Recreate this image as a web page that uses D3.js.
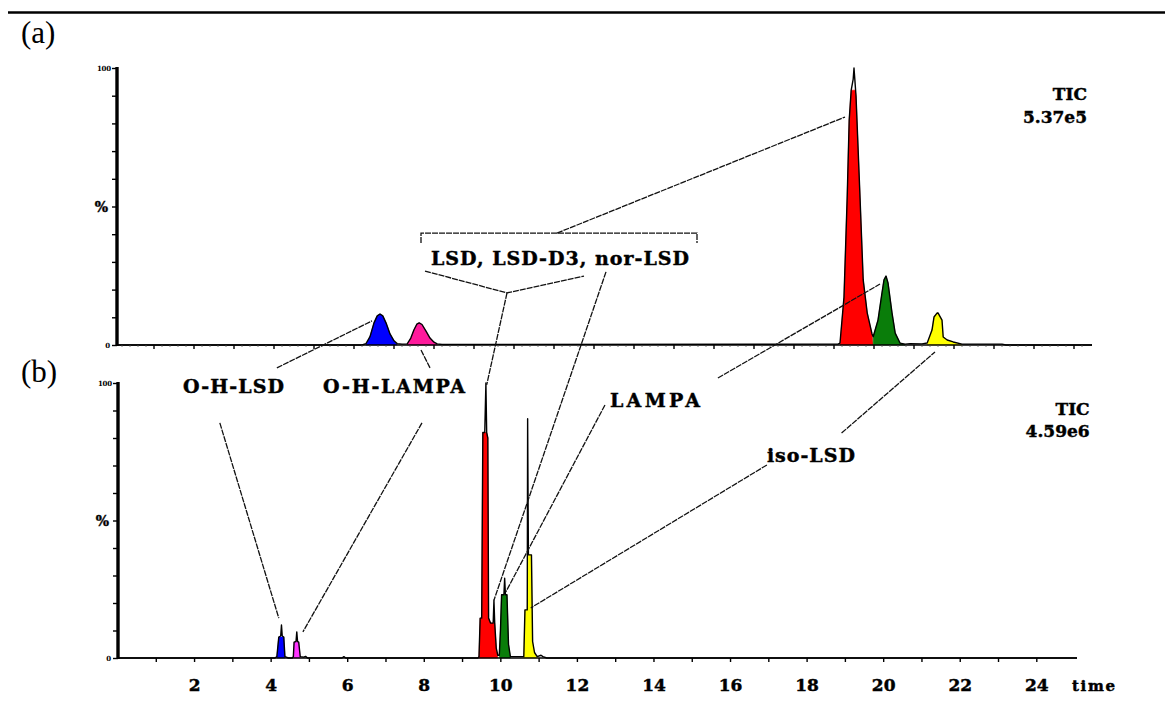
<!DOCTYPE html>
<html><head><meta charset="utf-8">
<script src="https://cdn.jsdelivr.net/npm/d3@7"></script>
<style>
html,body{margin:0;padding:0;background:#fff;}
svg{display:block;}
text{font-family:"DejaVu Serif","Liberation Serif",serif;font-weight:bold;fill:#000;}
text.heavy{stroke:#000;stroke-width:0.45px;}
</style></head>
<body>
<svg id="c" width="1165" height="703"></svg>
<script>
// ---------- DATA ----------
// (a) TIC trace, [time, % of max]
const topTIC = [[0.08,0],[6.2,0],
 [6.3,0.5],[6.4,3],[6.5,8],[6.58,10.5],[6.65,11.2],[6.72,10.5],[6.8,8],[6.9,4],[7.0,1.5],[7.08,0.5],
 [7.2,0.3],
 [7.33,0.4],[7.42,2.5],[7.5,5.5],[7.57,7.5],[7.63,8],[7.7,7.4],[7.8,5],[7.9,2.5],[8.0,1],[8.08,0.4],
 [8.2,0.2],[18.1,0.3],
 [18.15,0.7],[18.25,17.3],[18.33,53.4],[18.38,81.2],[18.43,92],[18.48,96],[18.5,100],[18.52,96],[18.55,90],[18.65,53.4],[18.73,23.5],[18.83,11.6],[18.95,4],[18.98,3],
 [19.1,9],[19.2,18.8],[19.25,23.5],[19.3,24.9],[19.35,22.4],[19.45,11.6],[19.53,4.3],[19.65,0.7],[19.78,0.3],
 [19.9,0.5],[20.2,0.4],
 [20.33,0.7],[20.45,5.4],[20.5,10.1],[20.58,11.6],[20.6,11.6],[20.7,9],[20.73,2.9],[20.83,1.8],[20.98,1.1],[21.2,0.3],
 [21.5,0.3],[22.2,0.3],[22.3,0],[24.45,0]];
// (a) coloured compound traces
const topBlue   = [[6.3,0],[6.4,3],[6.5,8],[6.58,10.5],[6.65,11.2],[6.72,10.5],[6.8,8],[6.9,4],[7.0,1.5],[7.08,0]];
const topPink   = [[7.33,0],[7.42,2.5],[7.5,5.5],[7.57,7.5],[7.63,8],[7.7,7.4],[7.8,5],[7.9,2.5],[8.0,1],[8.08,0]];
const topRed    = [[18.15,0],[18.25,17.3],[18.33,53.4],[18.38,81.2],[18.43,92],[18.53,92],[18.55,90],[18.65,53.4],[18.73,23.5],[18.83,11.6],[18.95,4],[18.98,0]];
const topGreen  = [[18.98,0],[18.98,3],[19.1,9],[19.2,18.8],[19.25,23.5],[19.3,24.9],[19.35,22.4],[19.45,11.6],[19.53,4.3],[19.65,0.7],[19.78,0]];
const topYellow = [[20.33,0],[20.45,5.4],[20.5,10.1],[20.58,11.6],[20.6,11.6],[20.7,9],[20.73,2.9],[20.83,1.8],[20.98,1.1],[21.2,0]];

// (b) TIC trace
const botTIC = [[0,0],[4.1,0],
 [4.15,0.5],[4.2,7.6],[4.25,8],[4.27,12],[4.29,8],[4.33,7.6],[4.36,0.5],[4.45,0],
 [4.55,0],[4.58,0.5],[4.6,5.8],[4.65,6],[4.67,9.5],[4.69,6],[4.72,5.8],[4.76,0.5],[4.85,0.3],
 [4.9,0.6],[4.95,0],[5.85,0],[5.9,0.5],[5.95,0],[9.4,0],
 [9.43,0.5],[9.46,14.5],[9.5,14.5],[9.53,82],[9.58,82],[9.61,100],[9.63,82],[9.66,80],[9.68,14.5],[9.73,12.7],[9.8,12.7],[9.82,21],[9.84,12.7],[9.88,3.6],[9.92,1],
 [9.96,1],[9.99,10],[10.02,23],[10.08,23],[10.1,29],[10.12,23],[10.16,23],[10.2,5],[10.25,0.5],
 [10.6,0.5],[10.63,17.5],[10.69,17.5],[10.7,87],[10.72,37.5],[10.8,37.5],[10.83,6],[10.88,2],[10.95,0.5],[11.05,1],[11.1,0.5],[11.2,0],[25.05,0]];
const botBlue    = [[4.15,0],[4.2,7.6],[4.33,7.6],[4.36,0]];
const botMagenta = [[4.58,0],[4.6,5.8],[4.72,5.8],[4.76,0]];
const botRed     = [[9.43,0],[9.46,14.5],[9.5,14.5],[9.53,82],[9.63,82],[9.66,80],[9.68,14.5],[9.73,12.7],[9.84,12.7],[9.88,3.6],[9.92,0]];
const botGreen   = [[9.96,0],[9.99,10],[10.02,23],[10.16,23],[10.2,5],[10.25,0]];
const botYellow  = [[10.6,0],[10.63,17.5],[10.69,17.5],[10.72,37.5],[10.8,37.5],[10.83,6],[10.88,2],[10.95,0]];

const xTickValues = d3.range(1,25);          // minutes
const xTickLabels = [2,4,6,8,10,12,14,16,18,20,22,24];
const yTickValues = d3.range(0,101,10);
const ticLabels = {top:["TIC","5.37e5"], bot:["TIC","4.59e6"]};

// ---------- LAYOUT ----------
const svg = d3.select("#c");
const P = {
  T:{x:d3.scaleLinear().domain([0,24.45]).range([114,1092]), y:d3.scaleLinear().domain([0,100]).range([345,68]), ax:117, xEnd:24.45},
  B:{x:d3.scaleLinear().domain([0,25.05]).range([118,1077]), y:d3.scaleLinear().domain([0,100]).range([658,383]), ax:118, xEnd:25.05}
};
const pt = p => [P[p[0]].x(p[1]), P[p[0]].y(p[2])];

// page rule and panel letters
svg.append("line").attr("x1",8).attr("x2",1165).attr("y1",12.5).attr("y2",12.5).attr("stroke","#000").attr("stroke-width",2.5);
svg.append("text").attr("x",21).attr("y",43).style("font-family","'Liberation Serif',serif").style("font-weight","normal").style("font-size","31px").text("(a)");
svg.append("text").attr("x",21).attr("y",382).style("font-family","'Liberation Serif',serif").style("font-weight","normal").style("font-size","31px").text("(b)");

function panel(key, fills, tic, tl){
  const p = P[key];
  const g = svg.append("g");
  const area = d3.area().x(d=>p.x(d[0])).y0(p.y(0)).y1(d=>p.y(d[1]));
  const line = d3.line().x(d=>p.x(d[0])).y(d=>p.y(d[1]));
  fills.forEach(f=>{
    g.append("path").datum(f.data).attr("d",area).attr("fill",f.color).attr("stroke",f.color).attr("stroke-width",0.6);
  });
  g.append("path").datum(tic).attr("d",line).attr("fill","none").attr("stroke","#000").attr("stroke-width",1.4).attr("stroke-linejoin","round");

  // x axis
  const xa = g.append("g").attr("transform",`translate(0,${p.y(0)})`);
  xa.append("line").attr("x1",p.ax).attr("x2",p.x(p.xEnd)).attr("y1",0).attr("y2",0).attr("stroke","#000").attr("stroke-width",1.7);
  xa.selectAll("line.t").data(xTickValues).join("line").attr("class","t")
    .attr("x1",d=>p.x(d)).attr("x2",d=>p.x(d)).attr("y1",0).attr("y2",4).attr("stroke","#000").attr("stroke-width",1.4);
  if(key==="T"){
    const minor = d3.range(0.2,24.4,0.2).filter(v=>Math.abs(v-Math.round(v))>0.05);
    xa.selectAll("line.m").data(minor).join("line").attr("class","m")
      .attr("x1",d=>p.x(d)).attr("x2",d=>p.x(d)).attr("y1",0).attr("y2",2).attr("stroke","#555").attr("stroke-width",0.8);
  } else {
    xa.selectAll("text.l").data(xTickLabels).join("text").attr("class","l heavy")
      .attr("x",d=>p.x(d)).attr("y",33).attr("text-anchor","middle").style("font-size","17px").text(d=>d);
    xa.append("text").attr("class","heavy").attr("x",p.x(p.xEnd)-5).attr("y",33).style("font-size","15px").attr("textLength",43).text("time");
  }
  // y axis
  const ya = g.append("g").attr("transform",`translate(${p.ax},0)`);
  ya.call(d3.axisLeft(p.y).tickValues(yTickValues).tickSize(5).tickSizeOuter(0).tickFormat(""));
  ya.select(".domain").remove();
  ya.selectAll(".tick line").attr("stroke-width",1.4);
  ya.append("line").attr("x1",0).attr("x2",0).attr("y1",p.y(100)-1).attr("y2",p.y(0)+1).attr("stroke","#000").attr("stroke-width",3.4);
  ya.append("text").attr("x",-6).attr("y",p.y(100)+2.5).attr("text-anchor","end").style("font-size","7px").attr("textLength",14).text("100");
  ya.append("text").attr("x",-7).attr("y",p.y(0)+2.5).attr("text-anchor","end").style("font-size","7px").text("0");
  ya.append("text").attr("class","heavy").attr("x",-9).attr("y",p.y(50)+5).attr("text-anchor","end").style("font-size","14px").text("%");
  // TIC
  const tx = key==="T" ? 24.325 : 25.38;
  g.append("text").attr("class","heavy").attr("x",p.x(tx)).attr("y",p.y(88.4)).attr("text-anchor","end").style("font-size","17px").text(tl[0]);
  g.append("text").attr("class","heavy").attr("x",p.x(tx)).attr("y",p.y(80.2)).attr("text-anchor","end").style("font-size","17px").text(tl[1]);
}

panel("T",[
  {data:topBlue,color:"#0000ff"},{data:topPink,color:"#ff1a9c"},{data:topRed,color:"#ff0000"},
  {data:topGreen,color:"#0a7d0a"},{data:topYellow,color:"#ffff00"}],topTIC,ticLabels.top);
panel("B",[
  {data:botBlue,color:"#0000ff"},{data:botMagenta,color:"#ff33ff"},{data:botRed,color:"#ff0000"},
  {data:botGreen,color:"#0a7d0a"},{data:botYellow,color:"#ffff00"}],botTIC,ticLabels.bot);

// ---------- ANNOTATIONS (in panel data units) ----------
const annoLines = [
 [["T",7.675,36.8],["T",7.675,40.4],["T",14.575,40.4],["T",14.575,36.8]],
 [["T",11.075,40.4],["T",18.275,82.3]],
 [["T",7.775,26.7],["T",9.825,18.8],["T",11.75,24.9]],
 [["T",9.825,18.8],["B",9.63,99.3]],
 [["T",12.3,26.4],["B",9.82,21]],
 [["B",4.15,105.5],["T",6.45,8.7]],
 [["B",2.66,85.5],["B",4.2,14.5]],
 [["B",8.15,105.5],["T",7.675,-1.8]],
 [["B",7.94,85.5],["B",4.83,9.5]],
 [["B",12.72,92],["B",10.13,24]],
 [["B",15.67,101.8],["T",19.15,22]],
 [["B",16.95,70.2],["B",10.78,18.2]],
 [["B",18.9,81.8],["T",20.525,-2.5]]
];
const lineGen = d3.line();
svg.append("g").selectAll("path").data(annoLines).join("path")
  .attr("d",d=>lineGen(d.map(pt))).attr("fill","none").attr("stroke","#111").attr("stroke-width",1.3).attr("stroke-dasharray","6,1");

const annoLabels = [
 {text:"LSD, LSD-D3, nor-LSD", p:["T",11.15,28.9], anchor:"middle", w:258},
 {text:"O-H-LSD", p:["B",3.015,96.4], anchor:"middle", w:101},
 {text:"O-H-LAMPA", p:["B",7.21,96.4], anchor:"middle", w:142},
 {text:"LAMPA", p:["B",12.85,91.3], anchor:"start", w:90},
 {text:"iso-LSD", p:["B",16.95,71.3], anchor:"start", w:88}
];
svg.append("g").selectAll("text").data(annoLabels).join("text").attr("class","heavy")
  .attr("x",d=>pt(d.p)[0]).attr("y",d=>pt(d.p)[1]).attr("text-anchor",d=>d.anchor)
  .attr("textLength",d=>d.w).attr("lengthAdjust","spacing")
  .style("font-size","19px").text(d=>d.text);
</script>
</body></html>
